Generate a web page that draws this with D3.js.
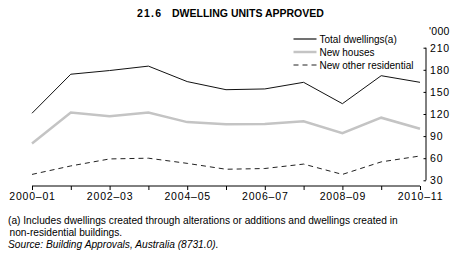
<!DOCTYPE html>
<html><head><meta charset="utf-8">
<script src="https://cdn.jsdelivr.net/npm/d3@7"></script>
<style>
body{margin:0;background:#fff;}
svg{display:block;font-family:"Liberation Sans",Arial,sans-serif;}
</style></head>
<body><svg id="c" width="463" height="260"></svg>
<script>
const years = ["2000–01","2001–02","2002–03","2003–04","2004–05","2005–06","2006–07","2007–08","2008–09","2009–10","2010–11"];
const tickLabels = ["2000–01","2002–03","2004–05","2006–07","2008–09","2010–11"];
const totalDwellings = [121,174,179,185,164,153,154,163,134,172,163];
const newHouses = [80,122,117,122,109,106,106.5,110,94,115,100];
const newOther = [38,49.5,59,60,53,45,46,52,38,55,63];
const yTicks = [30,60,90,120,150,180,210];
const seriesNames = ["Total dwellings(a)","New houses","New other residential"];

const svg = d3.select("#c");
const x = d3.scalePoint().domain(years).range([32,420]);
const y = d3.scaleLinear().domain([30,210]).range([180.3,47.7]);

// title
svg.append("text").attr("x",137).attr("y",17).attr("font-size",10.5).attr("font-weight","bold")
  .attr("letter-spacing",1.2).text("21.6");
svg.append("text").attr("x",172).attr("y",17).attr("font-size",10.5).attr("font-weight","bold")
  .text("DWELLING UNITS APPROVED");

// x axis
const xAxis = d3.axisBottom(x).tickSize(4).tickFormat(d => tickLabels.includes(d) ? d : "");
const gx = svg.append("g").attr("transform","translate(0,186)").call(xAxis);
gx.select(".domain").attr("d","M32,0H420").attr("stroke","#000");
gx.selectAll(".tick line").attr("stroke","#000");
gx.selectAll(".tick text").attr("font-size",10.5).attr("letter-spacing",0.8)
  .attr("font-family","Liberation Sans, Arial, sans-serif").attr("fill","#000").attr("dy","0.95em").attr("y",4);

// y axis (on right, ticks pointing left, labels right)
const yAxis = d3.axisRight(y).tickValues(yTicks).tickSize(0).tickPadding(4);
const gy = svg.append("g").attr("transform","translate(426,0)").call(yAxis);
gy.select(".domain").attr("d", `M0,${y(210)}V${y(30)}`).attr("stroke","#000");
gy.selectAll(".tick").append("line").attr("x1",-2.5).attr("x2",0).attr("stroke","#000");
gy.selectAll(".tick text").attr("font-size",10.5).attr("letter-spacing",0.8)
  .attr("font-family","Liberation Sans, Arial, sans-serif").attr("fill","#000");
svg.append("text").attr("x",429).attr("y",35).attr("font-size",10.5).attr("letter-spacing",0.3).text("'000");

// lines
const line = d3.line().x((d,i)=>x(years[i])).y(d=>y(d));
svg.append("path").datum(newHouses).attr("d",line).attr("fill","none").attr("stroke","#c4c4c4").attr("stroke-width",2.5);
svg.append("path").datum(newOther).attr("d",line).attr("fill","none").attr("stroke","#222").attr("stroke-width",1).attr("stroke-dasharray","5,4");
svg.append("path").datum(totalDwellings).attr("d",line).attr("fill","none").attr("stroke","#111").attr("stroke-width",1);

// legend
const styles = [{c:"#111",w:1.2,d:null},{c:"#c4c4c4",w:2.5,d:null},{c:"#222",w:1,d:"5,4"}];
const lg = svg.append("g");
seriesNames.forEach((n,i)=>{
  const yy = 39 + i*13;
  lg.append("line").attr("x1",293.5).attr("x2",316.5).attr("y1",yy).attr("y2",yy)
    .attr("stroke",styles[i].c).attr("stroke-width",styles[i].w).attr("stroke-dasharray",styles[i].d);
  lg.append("text").attr("x",319.5).attr("y",yy+3.6).attr("font-size",10).text(n);
});

// footnotes
svg.append("text").attr("x",8).attr("y",224).attr("font-size",10.2)
  .text("(a) Includes dwellings created through alterations or additions and dwellings created in");
svg.append("text").attr("x",9.5).attr("y",235.5).attr("font-size",10.2).text("non-residential buildings.");
svg.append("text").attr("x",8).attr("y",248).attr("font-size",10.2).attr("font-style","italic")
  .text("Source: Building Approvals, Australia (8731.0).");
</script></body></html>
